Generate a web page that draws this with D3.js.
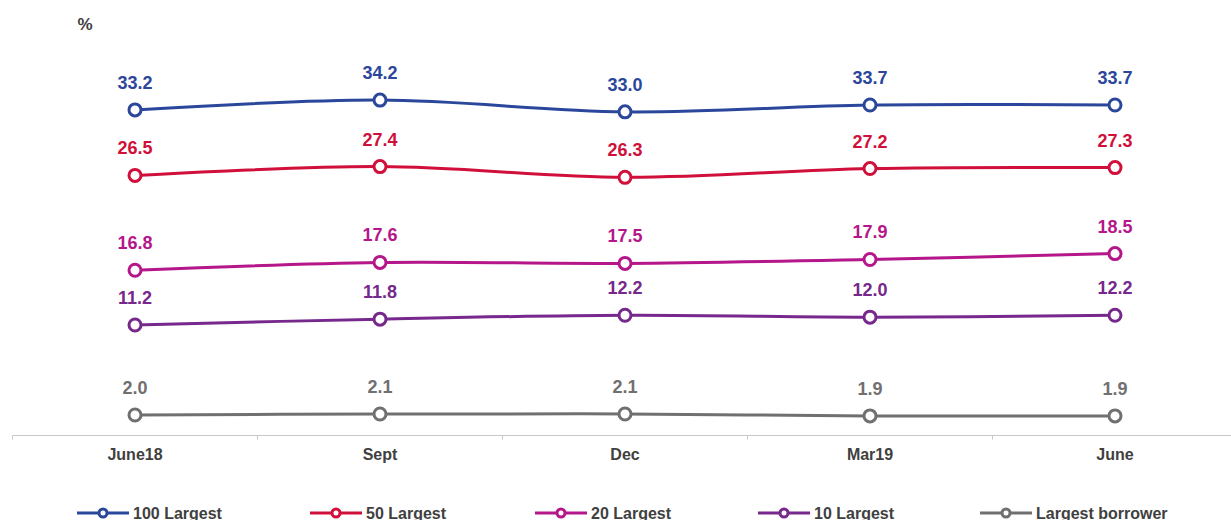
<!DOCTYPE html>
<html>
<head>
<meta charset="utf-8">
<script src="https://cdn.jsdelivr.net/npm/d3@7"></script>
<style>
  html, body { margin: 0; padding: 0; background: #fff; }
  svg { display: block; font-family: "Liberation Sans", Arial, sans-serif; }
</style>
</head>
<body>
<svg id="chart" width="1231" height="520"></svg>
<script>
// Periods along the x axis
const categories = ["June18", "Sept", "Dec", "Mar19", "June"];

// Concentration series, percent
const seriesNames = ["100 Largest", "50 Largest", "20 Largest", "10 Largest", "Largest borrower"];
const largest100 = [33.2, 34.2, 33.0, 33.7, 33.7];
const largest50 = [26.5, 27.4, 26.3, 27.2, 27.3];
const largest20 = [16.8, 17.6, 17.5, 17.9, 18.5];
const largest10 = [11.2, 11.8, 12.2, 12.0, 12.2];
const largestBorrower = [2.0, 2.1, 2.1, 1.9, 1.9];

const seriesValues = [largest100, largest50, largest20, largest10, largestBorrower];
const colors = ["#2B479B", "#D0103A", "#B5178A", "#76288C", "#707070"];

const svg = d3.select("#chart");
const axisLeft = 12.5, bandW = 245;

const x = d3.scaleBand()
  .domain(categories)
  .range([axisLeft, axisLeft + bandW * categories.length])
  .paddingInner(0).paddingOuter(0);

const y = d3.scaleLinear().domain([0, 35]).range([434.5, 92.3]);

// Unit label
svg.append("text")
  .attr("x", 85).attr("y", 30)
  .attr("text-anchor", "middle")
  .attr("font-size", 17).attr("font-weight", "bold")
  .attr("fill", "#404040")
  .text("%");

// Category axis
const axisY = 435.5;
const xAxis = d3.axisBottom(x).tickSize(0).tickFormat(d => d);
const gAxis = svg.append("g").attr("transform", `translate(0,${axisY})`).call(xAxis);
gAxis.select(".domain").remove();
gAxis.selectAll("text")
  .attr("dy", 0).attr("y", 24)
  .attr("font-size", 16).attr("font-weight", "bold")
  .attr("fill", "#404040")
  .attr("font-family", "Liberation Sans, Arial, sans-serif");

svg.append("line")
  .attr("x1", axisLeft).attr("x2", 1231)
  .attr("y1", axisY).attr("y2", axisY)
  .attr("stroke", "#C8C8C8").attr("stroke-width", 1);

// Boundary ticks between categories
const boundaries = categories.map(c => x(c));
svg.selectAll("line.bt").data(boundaries).enter().append("line")
  .attr("class", "bt")
  .attr("x1", d => d).attr("x2", d => d)
  .attr("y1", axisY).attr("y2", axisY + 4)
  .attr("stroke", "#C8C8C8").attr("stroke-width", 1);

const cx = c => x(c) + x.bandwidth() / 2;

const line = d3.line()
  .x((d, i) => cx(categories[i]))
  .y(d => y(d))
  .curve(d3.curveCatmullRom.alpha(0.5));

seriesValues.forEach((vals, s) => {
  const g = svg.append("g");
  g.append("path")
    .datum(vals)
    .attr("d", line)
    .attr("fill", "none")
    .attr("stroke", colors[s])
    .attr("stroke-width", 3);
  g.selectAll("circle").data(vals).enter().append("circle")
    .attr("cx", (d, i) => cx(categories[i]))
    .attr("cy", d => y(d))
    .attr("r", 6)
    .attr("fill", "#fff")
    .attr("stroke", colors[s])
    .attr("stroke-width", 3);
  g.selectAll("text").data(vals).enter().append("text")
    .attr("x", (d, i) => cx(categories[i]))
    .attr("y", d => y(d) - 21)
    .attr("text-anchor", "middle")
    .attr("font-size", 18).attr("font-weight", "bold")
    .attr("fill", colors[s])
    .text(d => d.toFixed(1));
});

// Legend
const legendX = [77, 310, 535, 758, 980];
const legendY = 513;
seriesNames.forEach((name, s) => {
  const g = svg.append("g").attr("transform", `translate(${legendX[s]},${legendY})`);
  g.append("line").attr("x1", 0).attr("x2", 52).attr("y1", 0).attr("y2", 0)
    .attr("stroke", colors[s]).attr("stroke-width", 3);
  g.append("circle").attr("cx", 26).attr("cy", 0).attr("r", 4)
    .attr("fill", "#fff").attr("stroke", colors[s]).attr("stroke-width", 3);
  g.append("text").attr("x", 56).attr("y", 6)
    .attr("font-size", 16).attr("font-weight", "bold")
    .attr("fill", "#404040")
    .text(name);
});
</script>
</body>
</html>
